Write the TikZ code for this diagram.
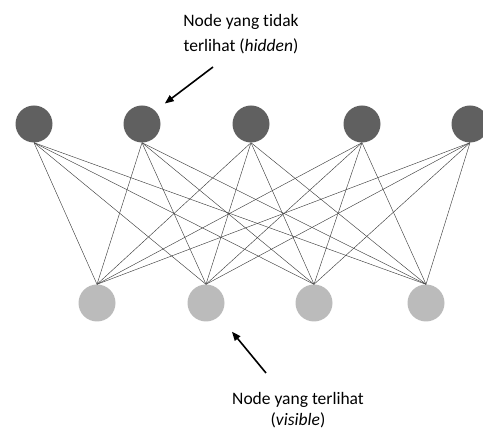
\documentclass[tikz,border=0pt]{standalone}
\usepackage{fontspec}
\setmainfont[Ligatures=NoCommon]{Carlito}
\usepackage{tikz}
\usetikzlibrary{arrows.meta}
\definecolor{hiddengray}{HTML}{606060}
\definecolor{visiblegray}{HTML}{BBBBBB}
\tikzset{
	hiddennode/.style={circle,fill=hiddengray,minimum size=37pt,inner sep=0pt},
	visiblenode/.style={circle,fill=visiblegray,minimum size=37pt,inner sep=0pt},
	link/.style={draw=black!75,line width=0.45pt},
	pointer/.style={-{Triangle[length=9pt,width=7pt]},line width=1.6pt},
	caption/.style={align=center,font=\fontsize{17.5}{25}\selectfont}
}

\begin{document}
\begin{tikzpicture}[x=1pt,y=1pt]
	\useasboundingbox (0,0) rectangle (483,-430);
	% hidden layer
	\foreach \i/\x in {1/34,2/142,3/251,4/362,5/470}
		\node[hiddennode] (h\i) at (\x,-124) {};
	% visible layer
	\foreach \j/\x in {1/97,2/206,3/314,4/426}
		\node[visiblenode] (v\j) at (\x,-303) {};
	% full connections
	\foreach \i in {1,...,5}
		\foreach \j in {1,...,4}
			\draw[link] (h\i.south) -- (v\j.north);
	\node[caption] (hlabel) at (241,-34) {Node yang tidak\\terlihat (\textit{hidden})};
	\node[caption,font=\fontsize{17.5}{21}\selectfont] (vlabel) at (298,-410) {Node yang terlihat\\(\textit{visible})};
	\coordinate (htail) at (213,-67);
	\coordinate (vtail) at (266,-373);
	\draw[pointer,shorten >=12pt] (htail) -- (h2.north east);
	\draw[pointer,shorten >=20pt] (vtail) -- (v2.south east);
\end{tikzpicture}
\end{document}
